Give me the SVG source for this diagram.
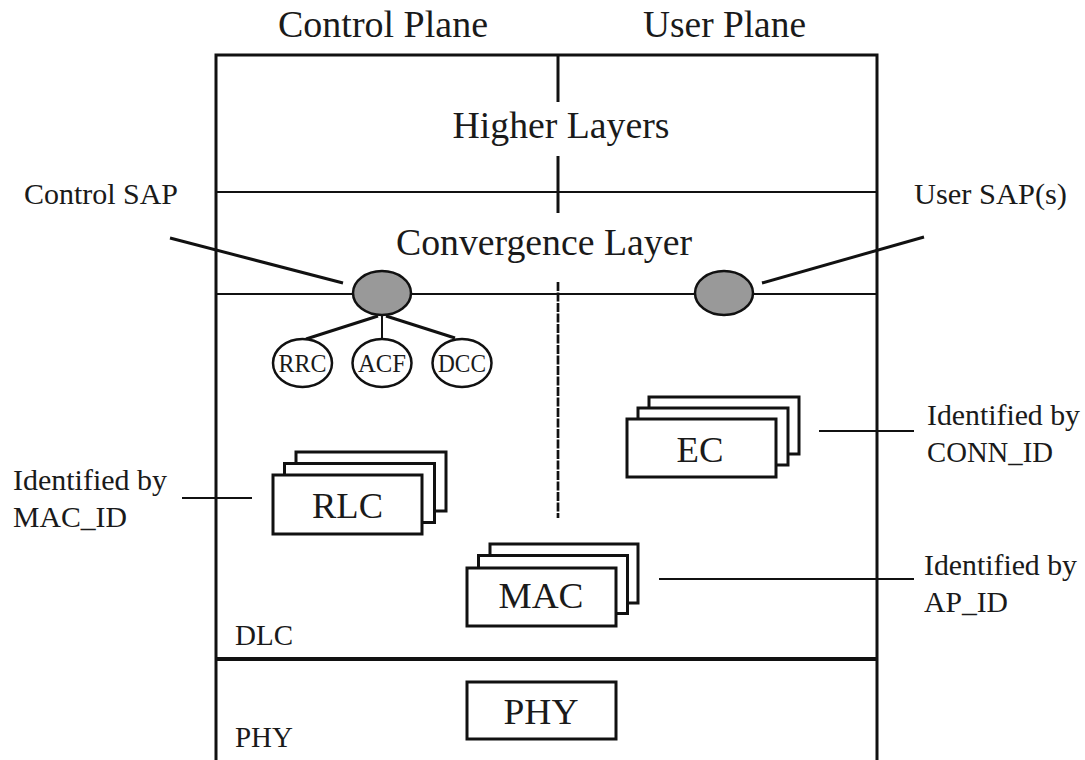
<svg xmlns="http://www.w3.org/2000/svg" width="1085" height="760" viewBox="0 0 1085 760">
  <style>
    text { font-family: "Liberation Serif", "Times New Roman", serif; fill: #1a1a1a; }
    .title { font-size: 37px; text-anchor: middle; }
    .layer { font-size: 37px; text-anchor: middle; }
    .lbl { font-size: 30px; }
    .box { font-size: 36px; text-anchor: middle; }
    .small { font-size: 25px; text-anchor: middle; }
    .frame { stroke: #111; stroke-width: 3; fill: none; }
    .thin { stroke: #111; stroke-width: 1.8; fill: none; }
    .card { fill: #fff; stroke: #111; stroke-width: 3; }
    .sap { fill: #999; stroke: #111; stroke-width: 2.5; }
    .fn { fill: #fff; stroke: #111; stroke-width: 2.5; }
    .wire { stroke: #111; stroke-width: 3; fill: none; }
    .tick { stroke: #111; stroke-width: 2; fill: none; }
  </style>

  <!-- plane headings -->
  <text class="title" x="383" y="37" textLength="210" lengthAdjust="spacingAndGlyphs">Control Plane</text>
  <text class="title" x="724.5" y="37" textLength="163" lengthAdjust="spacingAndGlyphs">User Plane</text>

  <!-- protocol stack frame and layer boundaries -->
  <g id="frame">
    <path class="frame" d="M216 760 V55 H877 V760"/>
    <line class="thin" x1="216" y1="192" x2="877" y2="192"/>
    <line class="thin" x1="216" y1="294" x2="877" y2="294"/>
    <line stroke="#111" stroke-width="4" x1="216" y1="659" x2="877" y2="659"/>
    <!-- control / user plane split -->
    <line class="frame" x1="558" y1="55" x2="558" y2="102"/>
    <line class="frame" x1="558" y1="156" x2="558" y2="213"/>
    <line stroke="#111" stroke-width="2.7" stroke-dasharray="9 1.5" x1="558" y1="282" x2="558" y2="518"/>
  </g>

  <g id="higher-layers"><text class="layer" x="561" y="138" textLength="217" lengthAdjust="spacingAndGlyphs">Higher Layers</text></g>
  <g id="convergence-layer"><text class="layer" x="544" y="255" textLength="296" lengthAdjust="spacingAndGlyphs">Convergence Layer</text></g>
  <g id="dlc-label"><text class="lbl" x="235" y="645" textLength="58" lengthAdjust="spacingAndGlyphs">DLC</text></g>
  <g id="phy-label"><text class="lbl" x="235" y="747" textLength="58" lengthAdjust="spacingAndGlyphs">PHY</text></g>

  <!-- connectors -->
  <g id="connectors">
    <line class="wire" x1="170" y1="238" x2="343" y2="283"/>
    <line class="wire" x1="762" y1="283" x2="924" y2="237"/>
    <line class="wire" x1="378" y1="316" x2="306" y2="339"/>
    <line class="wire" x1="386" y1="316" x2="455" y2="338"/>
    <line class="tick" x1="382" y1="315" x2="382" y2="340"/>
    <line class="tick" x1="182" y1="498" x2="252" y2="498"/>
    <line class="tick" x1="819" y1="431" x2="914" y2="431"/>
    <line class="tick" x1="659" y1="579" x2="914" y2="579"/>
  </g>

  <!-- service access points -->
  <g id="control-sap">
    <ellipse class="sap" cx="382" cy="293" rx="29" ry="22"/>
    <text class="lbl" x="24" y="204" textLength="154" lengthAdjust="spacingAndGlyphs">Control SAP</text>
  </g>
  <g id="user-sap">
    <ellipse class="sap" cx="724" cy="293" rx="29" ry="22"/>
    <text class="lbl" x="914" y="204" textLength="153" lengthAdjust="spacingAndGlyphs">User SAP(s)</text>
  </g>

  <!-- control functions -->
  <g id="rrc">
    <ellipse class="fn" cx="302.5" cy="363" rx="29.5" ry="24"/>
    <text class="small" x="302.5" y="372" textLength="48" lengthAdjust="spacingAndGlyphs">RRC</text>
  </g>
  <g id="acf">
    <ellipse class="fn" cx="382" cy="363" rx="29.5" ry="24"/>
    <text class="small" x="382" y="372" textLength="48" lengthAdjust="spacingAndGlyphs">ACF</text>
  </g>
  <g id="dcc">
    <ellipse class="fn" cx="462" cy="363" rx="29.5" ry="24"/>
    <text class="small" x="462" y="372" textLength="48" lengthAdjust="spacingAndGlyphs">DCC</text>
  </g>

  <!-- stacked entities -->
  <g id="rlc">
    <rect class="card" x="296" y="452" width="150" height="59"/>
    <rect class="card" x="284.5" y="463.5" width="150" height="59"/>
    <rect class="card" x="273" y="475" width="149" height="59"/>
    <text class="box" x="347.5" y="518" textLength="71" lengthAdjust="spacingAndGlyphs">RLC</text>
    <text class="lbl" x="13" y="490" textLength="154" lengthAdjust="spacingAndGlyphs">Identified by</text>
    <text class="lbl" x="13" y="527" textLength="114" lengthAdjust="spacingAndGlyphs">MAC_ID</text>
  </g>
  <g id="ec">
    <rect class="card" x="649" y="397" width="150" height="57"/>
    <rect class="card" x="638" y="408" width="150" height="57"/>
    <rect class="card" x="627" y="419" width="149" height="58"/>
    <text class="box" x="700" y="462" textLength="47" lengthAdjust="spacingAndGlyphs">EC</text>
    <text class="lbl" x="927" y="425" textLength="153" lengthAdjust="spacingAndGlyphs">Identified by</text>
    <text class="lbl" x="927" y="462" textLength="126" lengthAdjust="spacingAndGlyphs">CONN_ID</text>
  </g>
  <g id="mac">
    <rect class="card" x="490" y="544" width="148" height="59"/>
    <rect class="card" x="478.5" y="555.5" width="149" height="58"/>
    <rect class="card" x="467" y="568" width="149" height="58"/>
    <text class="box" x="541" y="608" textLength="85" lengthAdjust="spacingAndGlyphs">MAC</text>
    <text class="lbl" x="924" y="575" textLength="153" lengthAdjust="spacingAndGlyphs">Identified by</text>
    <text class="lbl" x="924" y="612" textLength="84" lengthAdjust="spacingAndGlyphs">AP_ID</text>
  </g>
  <g id="phy">
    <rect class="card" x="467" y="682" width="149" height="57" stroke-width="2.5"/>
    <text class="box" x="541" y="724" textLength="75" lengthAdjust="spacingAndGlyphs">PHY</text>
  </g>
</svg>
